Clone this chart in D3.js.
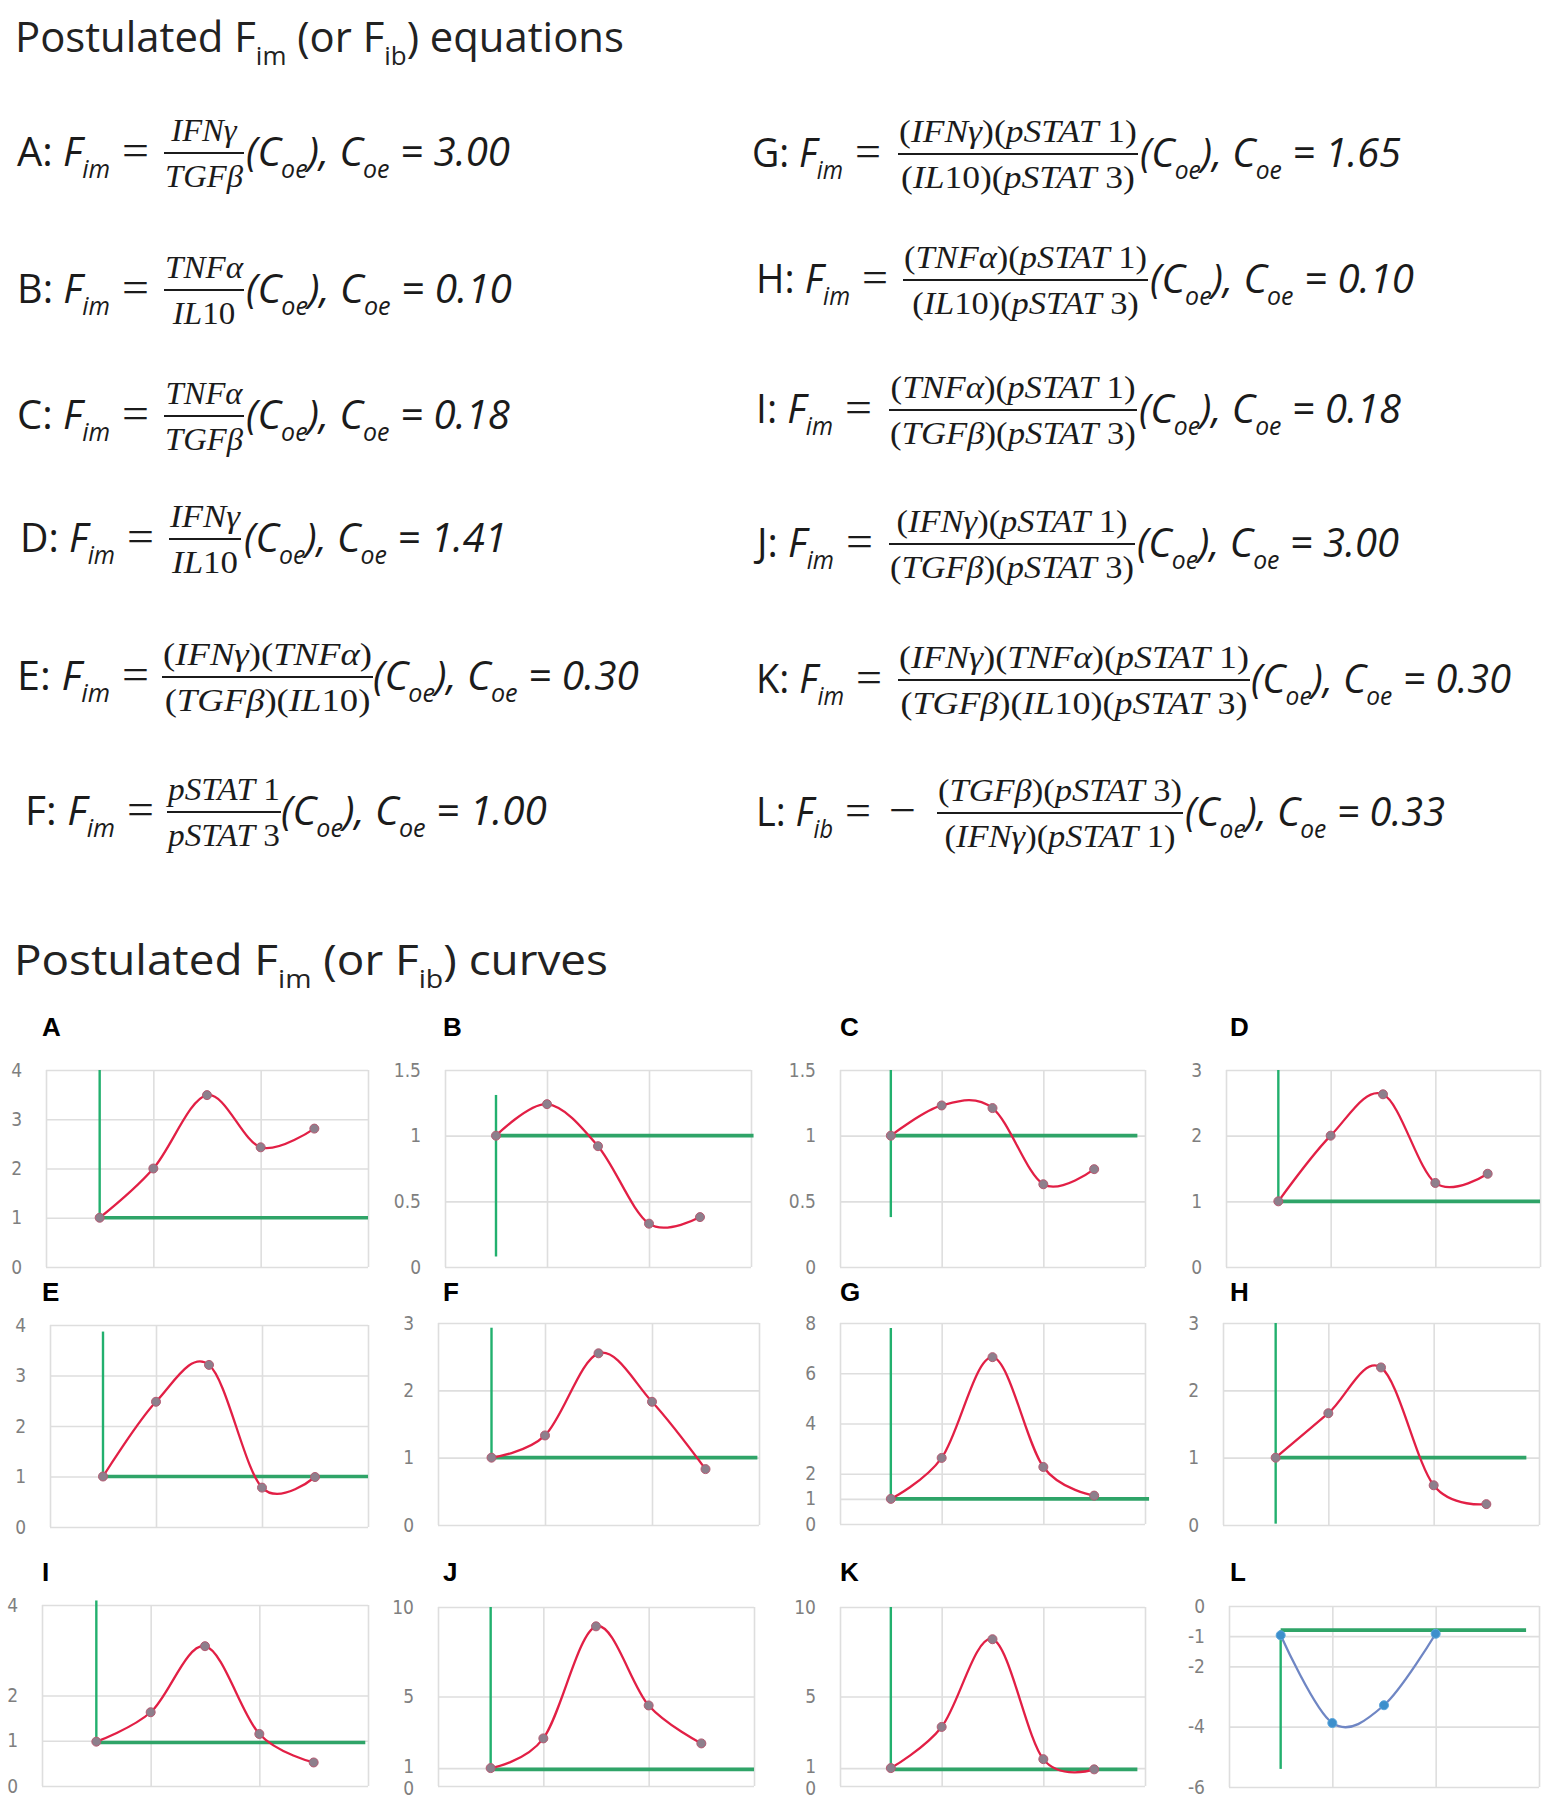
<!DOCTYPE html>
<html><head><meta charset="utf-8">
<script src="https://cdn.jsdelivr.net/npm/d3@7"></script>
<style>body{margin:0;background:#fff} svg{display:block} text{white-space:pre}</style>
</head><body>
<svg id="chart" width="1562" height="1804"></svg>
<script>
// ================= DATA =================
const panelIds = ["A","B","C","D","E","F","G","H","I","J","K","L"];
const xValues = [1, 2, 3, 4, 5];
const xGridTicks = [0, 2, 4, 6];

const seriesA = [1.00, 2.00, 3.49, 2.43, 2.81];
const seriesB = [1.00, 1.24, 0.92, 0.33, 0.38];
const seriesC = [1.00, 1.23, 1.21, 0.63, 0.745];
const seriesD = [1.00, 2.00, 2.63, 1.28, 1.42];
const seriesE = [1.00, 2.48, 3.21, 0.78, 0.99];
const seriesF = [1.00, 1.33, 2.55, 1.83, 0.83];
const seriesG = [1.00, 2.63, 6.64, 2.27, 1.13];
const seriesH = [1.00, 1.66, 2.34, 0.59, 0.31];
const seriesI = [0.98, 1.63, 3.09, 1.15, 0.52];
const seriesJ = [1.00, 2.66, 8.92, 4.50, 2.38];
const seriesK = [1.00, 3.30, 8.20, 1.50, 0.93];
const seriesL = [-0.97, -3.88, -3.29, -0.92];

const yTicksA = [0, 1, 2, 3, 4];
const yTicksB = [0, 0.5, 1, 1.5];
const yTicksC = [0, 0.5, 1, 1.5];
const yTicksD = [0, 1, 2, 3];
const yTicksE = [0, 1, 2, 3, 4];
const yTicksF = [0, 1, 2, 3];
const yTicksG = [0, 1, 2, 4, 6, 8];
const yTicksH = [0, 1, 2, 3];
const yTicksI = [0, 1, 2, 4];
const yTicksJ = [0, 1, 5, 10];
const yTicksK = [0, 1, 5, 10];
const yTicksL = [-6, -4, -2, -1, 0];

// green reference lines: vertical at x=1 [yFrom, yTo]; horizontal [yLevel, xEnd] starting at x=1
const guideVert = [[4,1],[1.31,0.08],[1.5,0.38],[3,1],[3.87,1],[2.93,1],[7.8,1],[3,0.02],[4.1,0.96],[10,0.93],[10,0.93],[-0.8,-5.4]];
const guideHorz = [[1,6],[1,6.05],[1,5.85],[1,6],[1,6],[1,5.97],[1,6.08],[1,5.76],[0.96,5.95],[0.93,6],[0.93,5.85],[-0.8,5.75]];

// equations
const eqLabels = ["A","B","C","D","E","F","G","H","I","J","K","L"];
const eqLhsSub = ["im","im","im","im","im","im","im","im","im","im","im","ib"];
const eqSign = ["","","","","","","","","","","","−"];
const eqNumerators = ["IFNγ","TNFα","TNFα","IFNγ","(IFNγ)(TNFα)","pSTAT 1","(IFNγ)(pSTAT 1)","(TNFα)(pSTAT 1)","(TNFα)(pSTAT 1)","(IFNγ)(pSTAT 1)","(IFNγ)(TNFα)(pSTAT 1)","(TGFβ)(pSTAT 3)"];
const eqDenominators = ["TGFβ","IL10","TGFβ","IL10","(TGFβ)(IL10)","pSTAT 3","(IL10)(pSTAT 3)","(IL10)(pSTAT 3)","(TGFβ)(pSTAT 3)","(TGFβ)(pSTAT 3)","(TGFβ)(IL10)(pSTAT 3)","(IFNγ)(pSTAT 1)"];
const eqCoe = ["3.00","0.10","0.18","1.41","0.30","1.00","1.65","0.10","0.18","3.00","0.30","0.33"];

const titleTop = ["Postulated F", "im", " (or F", "ib", ") equations"];
const titleBottom = ["Postulated F", "im", " (or F", "ib", ") curves"];

// ================= LAYOUT (positions only) =================
// [labelX, eqX0, eqX1, fracX0, fracX1, restX0, restX1, barY, minusX0, minusX1]
const eqLayout = [
  [17,122,149,164,244,246,510,153],
  [17,122,149,164,244,246,512,290],
  [17,122,149,164,244,246,510,416],
  [20,127,154,169,241,244,507,539],
  [17,122,149,162,373,373,639,677],
  [25,127,154,167,281,281,547,812],
  [752,855,881,898,1138,1140,1401,154],
  [756,862,888,903,1148,1150,1414,280],
  [756,845,872,889,1137,1139,1401,410],
  [753,846,873,889,1135,1137,1399,544],
  [756,856,882,898,1250,1251,1511,680],
  [756,845,871,937,1183,1185,1445,813,889,916]
];
// [left, right, top, bottom]
const panelBox = [
  [46,368,1070,1267],[445,751,1070,1267],[840,1145,1070,1267],[1226,1540,1070,1267],
  [50,368,1325,1527],[438,759,1323,1525],[840,1145,1323,1524],[1223,1539,1323,1525],
  [42,368,1605,1786],[438,754,1607,1786],[840,1145,1607,1786],[1229,1539,1606,1787]
];
const letterPos = [
  [42,1036],[443,1036],[840,1036],[1230,1036],
  [42,1301],[443,1301],[840,1301],[1230,1301],
  [42,1581],[443,1581],[840,1581],[1230,1581]
];

// ================= DRAW =================
const svg = d3.select("#chart");
svg.append("rect").attr("width",1562).attr("height",1804).attr("fill","#fff");

const SANS = "'Open Sans','Noto Sans','DejaVu Sans',sans-serif";
const SERIF = "'Liberation Serif','DejaVu Serif',serif";

function fitX(g, x0, x1) {
  const b = g.node().getBBox();
  const s = (x1 - x0) / b.width;
  g.attr("transform", `translate(${x0 - b.x * s},0) scale(${s},1)`);
  return s;
}

// rich text: parts [[text, kind]] kind: up | it | sub | subup
function rich(parent, y, size, parts, family, color) {
  const t = parent.append("text").attr("y", y).attr("font-size", size)
    .attr("font-family", family).attr("fill", color || "#1b1b1b");
  let shift = 0;
  parts.forEach(([s, kind]) => {
    const ts = t.append("tspan").text(s);
    const target = kind === "sub" || kind === "subup" ? size * 0.3 : 0;
    ts.attr("dy", target - shift);
    shift = target;
    if (kind === "sub" || kind === "subup") ts.attr("font-size", size * 0.62);
    if (kind === "it" || kind === "sub") ts.attr("font-style", "italic");
  });
  return t;
}

// math run: letters italic, digits & parentheses upright
function mathText(parent, y, size, str) {
  const t = parent.append("text").attr("y", y).attr("font-size", size)
    .attr("font-family", SERIF).attr("fill", "#1b1b1b").attr("text-anchor", "middle");
  const runs = str.match(/[A-Za-zγαβ]+|[^A-Za-zγαβ]+/g);
  runs.forEach(r => {
    const ts = t.append("tspan").text(r);
    if (/[A-Za-zγαβ]/.test(r)) ts.attr("font-style", "italic");
  });
  return t;
}

// titles
function title(parts, y, x0, x1) {
  const g = svg.append("g");
  rich(g, y, 42, parts.map((s, i) => [s, i % 2 ? "subup" : "up"]), SANS, "#222");
  fitX(g, x0, x1);
}
title(titleTop, 52, 15, 624);
title(titleBottom, 975, 14, 608);

// equations
eqLabels.forEach((lab, i) => {
  const L = eqLayout[i];
  const bar = L[7], base = bar + 13;
  const g1 = svg.append("g");
  rich(g1, base, 40, [[lab + ": ", "up"], ["F", "it"], [eqLhsSub[i], "sub"]], SANS);
  fitX(g1, L[0], L[1] - 12);

  const g2 = svg.append("g");
  g2.append("text").attr("y", base - 1).attr("font-size", 44).attr("font-family", SERIF)
    .attr("fill", "#1b1b1b").text("=");
  fitX(g2, L[1], L[2]);

  if (eqSign[i]) {
    const gm = svg.append("g");
    gm.append("text").attr("y", base - 1).attr("font-size", 44).attr("font-family", SERIF)
      .attr("fill", "#1b1b1b").text(eqSign[i]);
    fitX(gm, L[8], L[9]);
  }

  // fraction
  svg.append("line").attr("x1", L[3]).attr("x2", L[4]).attr("y1", bar).attr("y2", bar)
    .attr("stroke", "#1b1b1b").attr("stroke-width", 2);
  const gf = svg.append("g");
  const num = mathText(gf, bar - 12, 31, eqNumerators[i]);
  const den = mathText(gf, bar + 34, 31, eqDenominators[i]);
  const w = Math.max(num.node().getComputedTextLength(), den.node().getComputedTextLength());
  const s = (L[4] - L[3] - 2) / w;
  gf.attr("transform", `translate(${(L[3] + L[4]) / 2},0) scale(${s},1)`);

  const g3 = svg.append("g");
  rich(g3, base, 40, [["(C", "it"], ["oe", "sub"], ["), C", "it"], ["oe", "sub"], [" = " + eqCoe[i], "it"]], SANS);
  fitX(g3, L[5], L[6]);
});

// panels
const allSeries = [seriesA,seriesB,seriesC,seriesD,seriesE,seriesF,seriesG,seriesH,seriesI,seriesJ,seriesK,seriesL];
const allTicks = [yTicksA,yTicksB,yTicksC,yTicksD,yTicksE,yTicksF,yTicksG,yTicksH,yTicksI,yTicksJ,yTicksK,yTicksL];

panelIds.forEach((id, i) => {
  const [l, r, t, b] = panelBox[i];
  const ticks = allTicks[i];
  const vals = allSeries[i];
  const isBlue = id === "L";
  const g = svg.append("g");
  const x = d3.scaleLinear().domain([0, 6]).range([l, r]);
  const y = d3.scaleLinear().domain(d3.extent(ticks)).range([b, t]);

  // letter
  svg.append("text").attr("x", letterPos[i][0]).attr("y", letterPos[i][1])
    .attr("font-family", "'Liberation Sans',Arial,sans-serif").attr("font-weight", "bold")
    .attr("font-size", 26).attr("fill", "#000").text(id);

  // gridlines
  const gy = g.append("g").attr("transform", `translate(${l},0)`)
    .call(d3.axisLeft(y).tickValues(ticks).tickSize(-(r - l)).tickFormat(""));
  const gx = g.append("g").attr("transform", `translate(0,${b})`)
    .call(d3.axisBottom(x).tickValues(xGridTicks).tickSize(-(b - t)).tickFormat(""));
  [gy, gx].forEach(a => {
    a.select(".domain").remove();
    a.selectAll("line").attr("stroke", "#dedede").attr("stroke-width", 1.6);
  });

  // tick labels
  const ga = g.append("g").attr("transform", `translate(${l},0)`)
    .call(d3.axisLeft(y).tickValues(ticks).tickSize(0).tickPadding(24).tickFormat(d => String(d)));
  ga.select(".domain").remove();
  ga.selectAll("text").attr("fill", "#7f7f7f").attr("font-size", 19)
    .attr("font-family", "'Liberation Sans Narrow','DejaVu Sans Condensed','Roboto',sans-serif");
  // nudge apart labels whose ticks sit very close together
  const sorted = ticks.slice().sort((a, c) => a - c);
  ga.selectAll(".tick text").each(function (d) {
    const k = sorted.indexOf(d);
    let off = 0;
    if (k > 0 && Math.abs(y(sorted[k - 1]) - y(d)) < 22) off -= (22 - Math.abs(y(sorted[k - 1]) - y(d))) / 2;
    if (k < sorted.length - 1 && Math.abs(y(sorted[k + 1]) - y(d)) < 22) off += (22 - Math.abs(y(sorted[k + 1]) - y(d))) / 2;
    d3.select(this).attr("y", off);
  });

  // green guides
  const gv = guideVert[i], gh = guideHorz[i];
  g.append("line").attr("x1", x(1)).attr("x2", x(1)).attr("y1", y(gv[0])).attr("y2", y(gv[1]))
    .attr("stroke", "#22b06e").attr("stroke-width", 2.4);
  g.append("line").attr("x1", x(1)).attr("x2", x(gh[1])).attr("y1", y(gh[0])).attr("y2", y(gh[0]))
    .attr("stroke", "#2fa468").attr("stroke-width", 3.6);

  // curve
  const pts = vals.map((v, k) => [xValues[k], v]);
  const line = d3.line().x(d => x(d[0])).y(d => y(d[1])).curve(d3.curveCardinal.tension(0));
  g.append("path").attr("d", line(pts)).attr("fill", "none")
    .attr("stroke", isBlue ? "#6f86c4" : "#e21f45").attr("stroke-width", 2.3);
  g.selectAll("circle.m").data(pts).join("circle")
    .attr("cx", d => x(d[0])).attr("cy", d => y(d[1])).attr("r", 4.5)
    .attr("fill", isBlue ? "#3d8fcc" : "#8d7f8c")
    .attr("stroke", isBlue ? "#5aa6dc" : "#b45a72").attr("stroke-width", 1);
});
</script>
</body></html>
